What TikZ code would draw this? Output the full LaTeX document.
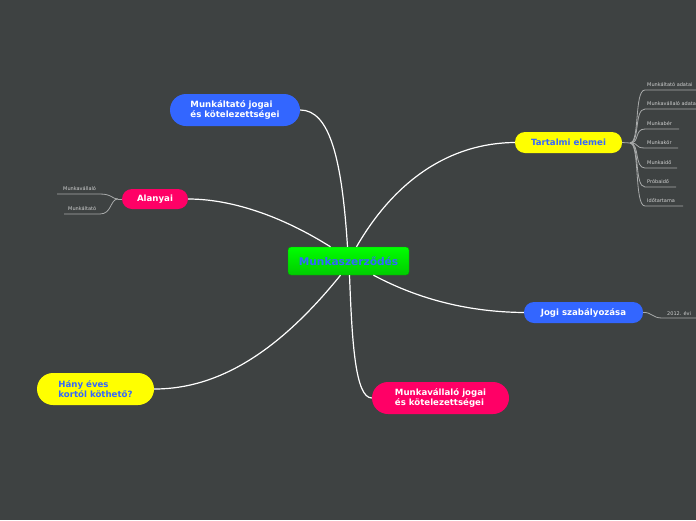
\documentclass[tikz,border=0pt]{standalone}
\usepackage{fontspec}
\setmainfont{DejaVu Sans}
\usetikzlibrary{positioning}
\definecolor{mybg}{RGB}{62,66,66}
\definecolor{myblue}{RGB}{51,102,255}
\definecolor{mypink}{RGB}{255,0,102}
\definecolor{myyellow}{RGB}{255,255,0}
\colorlet{mygreen}{green!80!black}
\colorlet{myleaf}{white!75!mybg}
\colorlet{myleafline}{white!55!mybg}

\begin{document}
\begin{tikzpicture}[x=1pt,y=-1pt,
    topic/.style={rounded corners=#1,inner sep=0pt,align=left,font=\bfseries\fontsize{8.6}{10}\selectfont},
    bluetopic/.style={topic=#1,fill=myblue,text=white},
    pinktopic/.style={topic=#1,fill=mypink,text=white},
    yellowtopic/.style={topic=#1,fill=myyellow,text=myblue},
    branch/.style={white,line width=1.2pt},
    twig/.style={myleafline,line width=0.8pt},
    leaf/.style={text=myleaf,font=\fontsize{5}{6}\selectfont,inner sep=0pt,anchor=base west}]
    \fill[mybg] (0,0) rectangle (696,520);
    \useasboundingbox (0,0) rectangle (696,520);
    \clip (0,0) rectangle (696,520);
    % central topic
    \node[rounded corners=3pt,top color=green,bottom color=mygreen,draw=mygreen!80!black,
      minimum width=121pt,minimum height=28pt,text=myblue,font=\bfseries\fontsize{10.6}{12}\selectfont]
      (main) at (348.5,261) {Munkaszerződés};
    % main topics
    \node[bluetopic=16pt,minimum width=130pt,minimum height=32pt] (mjog) at (235,110)
      {Munkáltató jogai\\és kötelezettségei};
    \node[pinktopic=10pt,minimum width=66pt,minimum height=20pt] (alany) at (155,199) {Alanyai};
    \node[yellowtopic=16pt,minimum width=117pt,minimum height=32pt] (hany) at (95.5,389)
      {Hány éves\\kortól köthető?};
    \node[pinktopic=16pt,minimum width=137pt,minimum height=32pt] (vjog) at (440.5,398)
      {Munkavállaló jogai\\és kötelezettségei};
    \node[yellowtopic=10pt,minimum width=107pt,minimum height=21pt] (tart) at (568.5,142.5) {Tartalmi elemei};
    \node[bluetopic=10pt,minimum width=119pt,minimum height=21pt] (jogi) at (583.5,312.5) {Jogi szabályozása};
    % branches
    \draw[branch] ([xshift=-1pt]main.north) .. controls (342,160) and (330,110) .. (mjog.east);
    \draw[branch] ([xshift=-18pt]main.north) .. controls (280,215) and (230,199) .. (alany.east);
    \draw[branch] ([xshift=8pt]main.north) .. controls (395,180) and (450,143) .. (tart.west);
    \draw[branch] ([xshift=25pt]main.south) .. controls (420,300) and (470,312) .. (jogi.west);
    \draw[branch] ([xshift=-8pt]main.south) .. controls (280,350) and (220,389) .. (hany.east);
    \draw[branch] ([xshift=1pt]main.south) .. controls (352,340) and (355,398) .. (vjog.west);
    % Tartalmi elemei
    \coordinate (tfork) at (630,143);
    \draw[twig] (tart.east) -- (tfork);
    \foreach \Y/\E/\T in {90/700/Munkáltató adatai,109/700/Munkavállaló adatai,129/679/Munkabér,
      148/678/Munkakör,168/677/Munkaidő,187/676/Próbaidő,206/683/Időtartama}
    {\draw[twig] (tfork) .. controls (640,143) and (634,\Y) .. (645,\Y) -- (\E,\Y);
    \node[leaf] at (647,\Y-4) {\T};}
    % Alanyai
    \coordinate (afork) at (118,199);
    \draw[twig] (alany.west) -- (afork);
    \draw[twig] (afork) .. controls (112,199) and (112,194) .. (100,194) -- (57,194);
    \node[leaf] at (63,190) {Munkavállaló};
    \draw[twig] (afork) .. controls (110,199) and (112,214) .. (100,214) -- (64,214);
    \node[leaf] at (68,210) {Munkáltató};
    % Jogi szabályozása
    \draw[twig] (jogi.east) .. controls (652,312) and (652,318) .. (662,318) -- (700,318);
    \node[leaf] at (667,315) {2012. évi};
\end{tikzpicture}
\end{document}
